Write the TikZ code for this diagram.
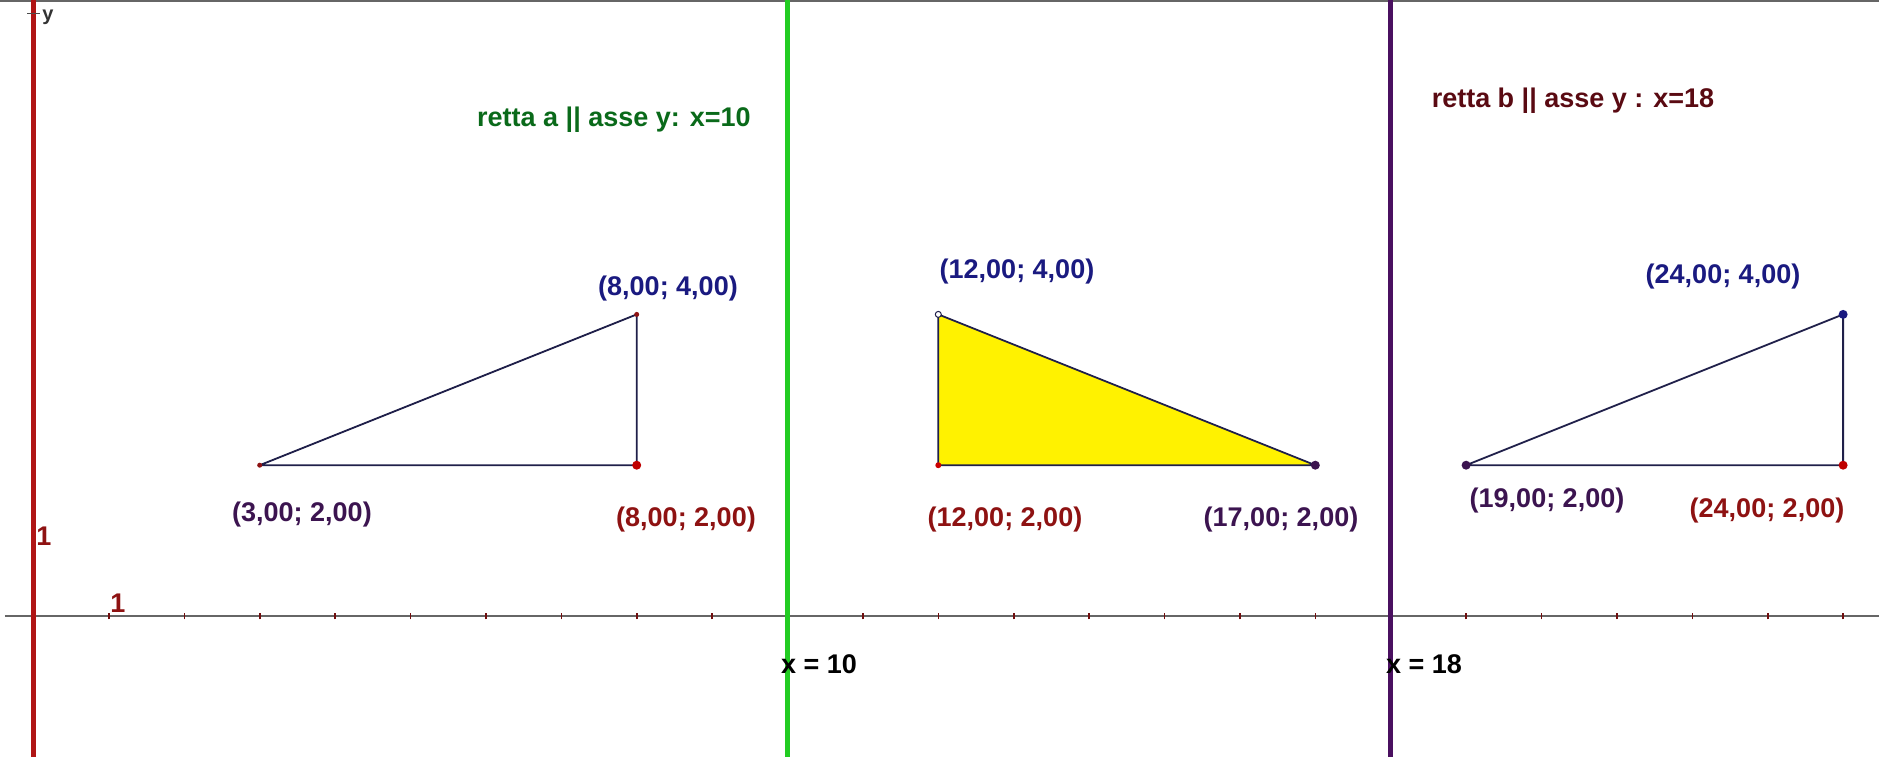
\documentclass[tikz,border=0pt]{standalone}
\usepackage{fontspec}
\setmainfont{Liberation Sans}
\newfontfamily\lab{Liberation Sans}
\definecolor{navy}{HTML}{1A1A80}
\definecolor{purp}{HTML}{3C1450}
\definecolor{dred}{HTML}{8E1212}
\definecolor{dgreen}{HTML}{0A6A1A}
\definecolor{maroon}{HTML}{5A0A12}
\definecolor{yaxis}{HTML}{B01515}
\definecolor{gline}{HTML}{22CC22}
\definecolor{pline}{HTML}{4A1060}
\definecolor{edge}{HTML}{20204A}
\begin{document}
\begin{tikzpicture}[x=1pt,y=-1pt,
  lbl/.style={font=\lab\bfseries\fontsize{27}{30}\selectfont, inner sep=0pt},
  tri/.style={draw=edge, line width=1.8pt},
  tick/.style={draw=dred!80!black, line width=1.6pt}]
\useasboundingbox (0,0) rectangle (1879,757);
\fill[white] (0,0) rectangle (1879,757);
\draw[line width=2.5pt, black!60] (0,1) -- (1879,1);
\begin{scope}[shift={(33.5,616)}, x=75.4pt, y=75.4pt]
  % axes
  \coordinate (xl) at (-0.38,0);
  \coordinate (xr) at (24.5,0);
  \draw[black!60, line width=1.6pt] (xl) -- (xr);
  \foreach \i in {1,...,24} {\draw[tick] (\i,-0.045) -- (\i,0.045);}
  \coordinate (yb) at (0,-1.9);
  \coordinate (yt) at (0,8.2);
  \draw[yaxis, line width=5pt] (yb) -- (yt);
  \draw[black!70, line width=1.4pt] (-0.08,7.99) -- (0.08,7.99);
  % parallel lines
  \coordinate (ab) at (10,-1.9); \coordinate (at) at (10,8.2);
  \coordinate (bb) at (18,-1.9); \coordinate (bt) at (18,8.2);
  \draw[gline, line width=5.5pt] (ab) -- (at);
  \draw[pline, line width=5.5pt] (bb) -- (bt);
  % triangle 1
  \coordinate (A1) at (3,2); \coordinate (A2) at (8,2); \coordinate (A3) at (8,4);
  \draw[tri] (A1) -- (A2) -- (A3) -- (A1);
  \fill[dred] (A1) circle (2.5pt);
  \fill[dred] (A3) circle (2.5pt);
  \fill[red!75!black] (A2) circle (4.5pt);
  % triangle 2
  \coordinate (B1) at (12,2); \coordinate (B2) at (17,2); \coordinate (B3) at (12,4);
  \fill[yellow] (B1) -- (B2) -- (B3) -- cycle;
  \draw[tri] (B1) -- (B2) -- (B3) -- (B1);
  \fill[red!80!black] (B1) circle (3pt);
  \draw[edge, fill=white, line width=1pt] (B3) circle (3pt);
  \fill[purp] (B2) circle (4.5pt);
  % triangle 3
  \coordinate (C1) at (19,2); \coordinate (C2) at (24,2); \coordinate (C3) at (24,4);
  \draw[tri] (C1) -- (C2) -- (C3) -- (C1);
  \fill[purp] (C1) circle (4.5pt);
  \fill[red!75!black] (C2) circle (4.5pt);
  \fill[navy] (C3) circle (4.5pt);
\end{scope}
% labels
\node[lbl, text=navy] (lA3) at (668,289) {(8,00; 4,00)};
\node[lbl, text=purp] (lA1) at (302,515) {(3,00; 2,00)};
\node[lbl, text=dred] (lA2) at (686,520) {(8,00; 2,00)};
\node[lbl, text=navy] (lB3) at (1017,272) {(12,00; 4,00)};
\node[lbl, text=dred] (lB1) at (1005,520) {(12,00; 2,00)};
\node[lbl, text=purp] (lB2) at (1281,520) {(17,00; 2,00)};
\node[lbl, text=navy] (lC3) at (1723,277) {(24,00; 4,00)};
\node[lbl, text=purp] (lC1) at (1547,501) {(19,00; 2,00)};
\node[lbl, text=dred] (lC2) at (1767,511) {(24,00; 2,00)};
\node[lbl, text=dgreen] (ra) at (614,120) {retta a || asse y: x=10};
\node[lbl, text=maroon] (rb) at (1573,101) {retta b || asse y : x=18};
\node[lbl, text=black, anchor=west] (xa) at (781,664) {x = 10};
\node[lbl, text=black, anchor=west] (xb) at (1386,664) {x = 18};
\node[lbl, text=dred] (one y) at (44,536) {1};
\node[lbl, text=dred] (one x) at (118,603) {1};
\node[font=\lab\bfseries\fontsize{20}{22}\selectfont, text=black!80, inner sep=0pt] (ylab) at (48,17) {y};
\end{tikzpicture}
\end{document}
